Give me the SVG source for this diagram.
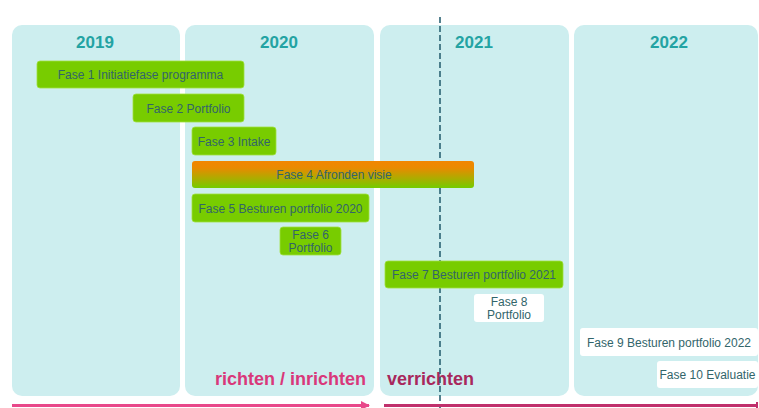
<svg xmlns="http://www.w3.org/2000/svg" width="759" height="408" viewBox="0 0 759 408">
<style>
.panel{fill:#cdeeef;}
.year{font-family:"Liberation Sans",Arial,sans-serif;font-weight:bold;font-size:17px;fill:#23a3a3;text-anchor:middle;}
.bar{fill:#78cc00;stroke:#9fe040;stroke-width:0.8;}
.wbar{fill:#ffffff;}
.lbl{font-family:"Liberation Sans",Arial,sans-serif;font-size:12px;fill:#32656a;text-anchor:middle;}
.phase{font-family:"Liberation Sans",Arial,sans-serif;font-weight:bold;font-size:18px;}
</style>
<defs>
<linearGradient id="g4" x1="0" y1="0" x2="0" y2="1">
<stop offset="0" stop-color="#f28600"/>
<stop offset="0.25" stop-color="#ea8a00"/>
<stop offset="1" stop-color="#74cc00"/>
</linearGradient>
<marker id="ah1" viewBox="0 0 10 10" refX="9" refY="5" markerWidth="3" markerHeight="3" orient="auto">
<path d="M0,0 L10,5 L0,10 z" fill="#e8488a"/>
</marker>
</defs>
<rect width="759" height="408" fill="#ffffff"/>
<g id="panels">
<g id="y2019"><rect class="panel" x="12" y="25" width="168" height="371" rx="10"/><text class="year" x="95" y="48">2019</text></g>
<g id="y2020"><rect class="panel" x="185" y="25" width="189" height="371" rx="10"/><text class="year" x="279" y="48">2020</text></g>
<g id="y2021"><rect class="panel" x="380" y="25" width="189" height="371" rx="10"/><text class="year" x="474" y="48">2021</text></g>
<g id="y2022"><rect class="panel" x="574" y="25" width="184" height="371" rx="10"/><text class="year" x="669" y="48">2022</text></g>
</g>
<g id="labels">
<text class="phase" x="366" y="385" text-anchor="end" fill="#d9387a">richten / inrichten</text>
<text class="phase" x="387" y="385" fill="#a8285c">verrichten</text>
</g>
<g id="connectors">
<line x1="440" y1="17" x2="440" y2="408" stroke="#2b6374" stroke-width="1.6" stroke-dasharray="6,3"/>
<line x1="12" y1="405.5" x2="369" y2="405.5" stroke="#e8488a" stroke-width="3" marker-end="url(#ah1)"/>
<line x1="384" y1="405.5" x2="757" y2="405.5" stroke="#c0306c" stroke-width="3"/>
<line x1="757" y1="402" x2="757" y2="408" stroke="#c0306c" stroke-width="2"/>
</g>
<g id="fase1"><rect class="bar" x="37" y="61" width="207" height="27" rx="3"/><text class="lbl" x="140.5" y="78.5">Fase 1 Initiatiefase programma</text></g>
<g id="fase2"><rect class="bar" x="133" y="94" width="111" height="28" rx="3"/><text class="lbl" x="188.5" y="112.5">Fase 2 Portfolio</text></g>
<g id="fase3"><rect class="bar" x="192" y="127" width="84" height="28" rx="3"/><text class="lbl" x="234" y="145.5">Fase 3 Intake</text></g>
<g id="fase4"><rect x="192" y="161" width="282" height="27" rx="3" fill="url(#g4)"/><text class="lbl" x="334" y="178.5">Fase 4 Afronden visie</text></g>
<g id="fase5"><rect class="bar" x="192" y="194" width="177" height="28" rx="3"/><text class="lbl" x="280.5" y="212.5">Fase 5 Besturen portfolio 2020</text></g>
<g id="fase6"><rect class="bar" x="280" y="227" width="61" height="28" rx="3"/><text class="lbl" x="310.5" y="238.5">Fase 6</text><text class="lbl" x="310.5" y="252">Portfolio</text></g>
<g id="fase7"><rect class="bar" x="385" y="261" width="178" height="27" rx="3"/><text class="lbl" x="474" y="278.5">Fase 7 Besturen portfolio 2021</text></g>
<g id="fase8"><rect class="wbar" x="474" y="294" width="70" height="28" rx="3"/><text class="lbl" x="509" y="305.5">Fase 8</text><text class="lbl" x="509" y="319">Portfolio</text></g>
<g id="fase9"><rect class="wbar" x="580" y="328" width="178" height="28" rx="3"/><text class="lbl" x="669" y="346.5">Fase 9 Besturen portfolio 2022</text></g>
<g id="fase10"><rect class="wbar" x="657" y="361" width="101" height="27" rx="3"/><text class="lbl" x="707.5" y="378.5">Fase 10 Evaluatie</text></g>
</svg>
